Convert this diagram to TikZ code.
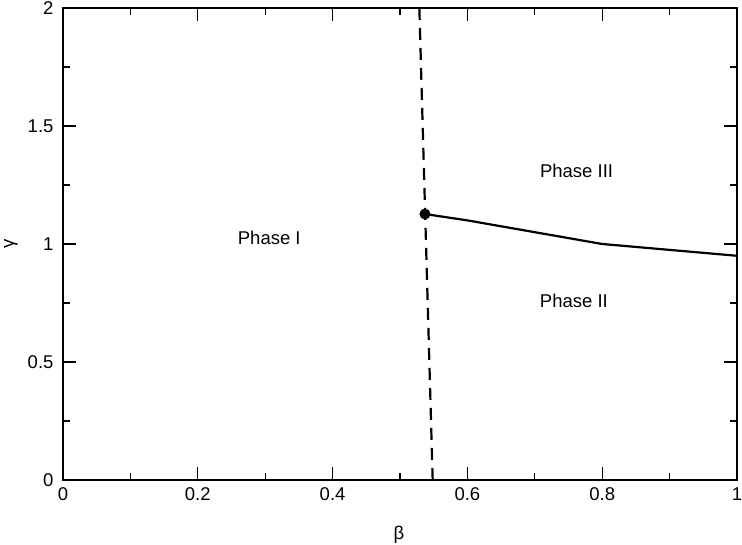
\documentclass[tikz,border=0pt]{standalone}
\usepackage{fontspec}
\setmainfont{Liberation Sans}
\begin{document}
\begin{tikzpicture}[x=674pt,y=236pt,
  lab/.style={font=\fontsize{18.5}{22}\selectfont},
  axis/.style={line width=1.8pt},
  tck/.style={line width=1.3pt},
  boundary/.style={line width=2.2pt, dash pattern=on 12pt off 8pt},
  curve/.style={line width=2.2pt, line join=round}]
\useasboundingbox (-63pt,-65pt) rectangle (679pt,480pt);
% ticks x
\foreach \v in {0.2,0.4,0.6,0.8}{
  \draw[tck] (\v,0) -- ++(0,13pt);
  \draw[tck] (\v,2) -- ++(0,-13pt);}
\foreach \v in {0.1,0.3,0.5,0.7,0.9}{
  \draw[tck] (\v,0) -- ++(0,7pt);
  \draw[tck] (\v,2) -- ++(0,-7pt);}
\foreach \v in {0.5,1,1.5}{
  \draw[tck] (0,\v) -- ++(13pt,0);
  \draw[tck] (1,\v) -- ++(-13pt,0);}
\foreach \v in {0.25,0.75,1.25,1.75}{
  \draw[tck] (0,\v) -- ++(7pt,0);
  \draw[tck] (1,\v) -- ++(-7pt,0);}
\draw[axis] (0,0) rectangle (1,2);
% tick labels
\foreach \v/\t in {0/0,0.2/0.2,0.4/0.4,0.6/0.6,0.8/0.8,1/1}
  \node[lab] (xl\t) at (\v,-14.5pt) {\t};
\foreach \v/\t in {0/0,0.5/0.5,1/1,1.5/1.5,2/2}
  \node[lab,anchor=east] (yl\t) at (-6pt,\v) {\t};
\node[lab] (xlabel) at (0.4985,-55pt) {β};
\node[lab,rotate=90,inner sep=0pt] (ylabel) at (-52pt,1.0) {γ};
% phase boundaries
\coordinate (dtop) at (0.5287,2);
\coordinate (dbot) at (0.5485,0);
\draw[boundary] (dtop) -- (dbot);
\node[circle,fill=black,inner sep=0pt,minimum size=11pt] (cp) at (0.537,1.127) {};
\draw[curve] (cp.center) -- (0.6,1.1) -- (0.8,1.0) -- (1,0.95);
% labels
\node[lab] (p1) at (0.306,1.025) {Phase I};
\node[lab] (p3) at (0.762,1.309) {Phase III};
\node[lab] (p2) at (0.758,0.758) {Phase II};
\end{tikzpicture}
\end{document}
